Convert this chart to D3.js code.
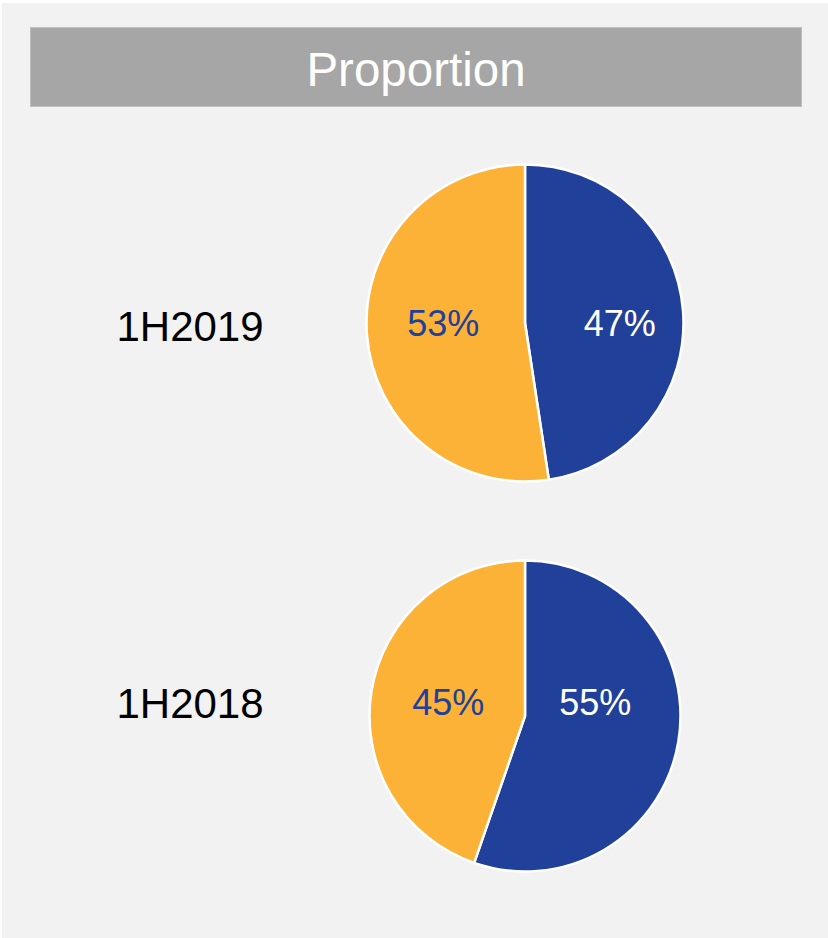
<!DOCTYPE html>
<html>
<head>
<meta charset="utf-8">
<script src="https://cdn.jsdelivr.net/npm/d3@7"></script>
<style>
  body { margin: 0; background: #ffffff; }
  svg { display: block; font-family: "Liberation Sans", Arial, sans-serif; }
</style>
</head>
<body>
<script>
// Proportion pies, one per half-year

var periods = ["1H2019", "1H2018"];
var seriesNames = ["blue", "orange"];
var blueShare = [47.6, 55.3];
var orangeShare = [52.4, 44.7];
var shareLabels = [["47%", "53%"], ["55%", "45%"]];

var width = 828,
    height = 938;

var colors = {blue: "#21409a", orange: "#fcb237"};
var labelColors = {blue: "#ffffff", orange: "#21409a"};

var svg = d3.select("body").append("svg")
    .attr("width", width)
    .attr("height", height);

svg.append("rect")
    .attr("x", 2)
    .attr("y", 3)
    .attr("width", width - 2)
    .attr("height", height - 3)
    .attr("fill", "#f2f2f2");

// title bar
svg.append("rect")
    .attr("x", 30.5)
    .attr("y", 27.5)
    .attr("width", 771)
    .attr("height", 79)
    .attr("fill", "#a6a6a6")
    .attr("stroke", "#bfbfbf")
    .attr("stroke-width", 1);

svg.append("text")
    .attr("x", 416)
    .attr("y", 86)
    .attr("text-anchor", "middle")
    .attr("fill", "#ffffff")
    .attr("font-size", "47.5px")
    .text("Proportion");

var y = d3.scalePoint().domain(periods).range([323, 716]);
var yText = d3.scalePoint().domain(periods).range([341, 718]);
var cx = 525;
var radius = d3.scaleOrdinal().domain(periods).range([159.5, 156.5]);
var labelLift = d3.scaleOrdinal().domain(periods).range([0, 14]);
// small horizontal nudges, Excel-style label placement
var labelNudge = d3.scaleOrdinal().domain(periods).range([[12, 1], [-10, 3.5]]);

var pie = d3.pie().sort(null).value(function(d) { return d.value; });

periods.forEach(function(p, i) {
  var rows = [
    {name: seriesNames[0], value: blueShare[i], label: shareLabels[i][0]},
    {name: seriesNames[1], value: orangeShare[i], label: shareLabels[i][1]}
  ];
  var r = radius(p);
  var arc = d3.arc().innerRadius(0).outerRadius(r - 1);
  var labelArc = d3.arc().innerRadius(r * 0.52).outerRadius(r * 0.52);

  var g = svg.append("g")
      .attr("transform", "translate(" + cx + "," + y(p) + ")");

  g.selectAll(".slice")
      .data(pie(rows))
      .enter()
    .append("path")
      .attr("class", "slice")
      .attr("d", arc)
      .attr("fill", function(d) { return colors[d.data.name]; })
      .attr("stroke", "#ffffff")
      .attr("stroke-width", 2.5)
      .attr("stroke-linejoin", "round");

  g.selectAll(".slice-label")
      .data(pie(rows))
      .enter()
    .append("text")
      .attr("class", "slice-label")
      .attr("x", function(d) { return labelArc.centroid(d)[0] + labelNudge(p)[d.index]; })
      .attr("y", -labelLift(p))
      .attr("dy", "0.35em")
      .attr("text-anchor", "middle")
      .attr("font-size", "36px")
      .attr("fill", function(d) { return labelColors[d.data.name]; })
      .text(function(d) { return d.data.label; });

  svg.append("text")
      .attr("x", 190)
      .attr("y", yText(p))
      .attr("text-anchor", "middle")
      .attr("font-size", "42px")
      .attr("fill", "#000000")
      .text(p);
});
</script>
</body>
</html>
